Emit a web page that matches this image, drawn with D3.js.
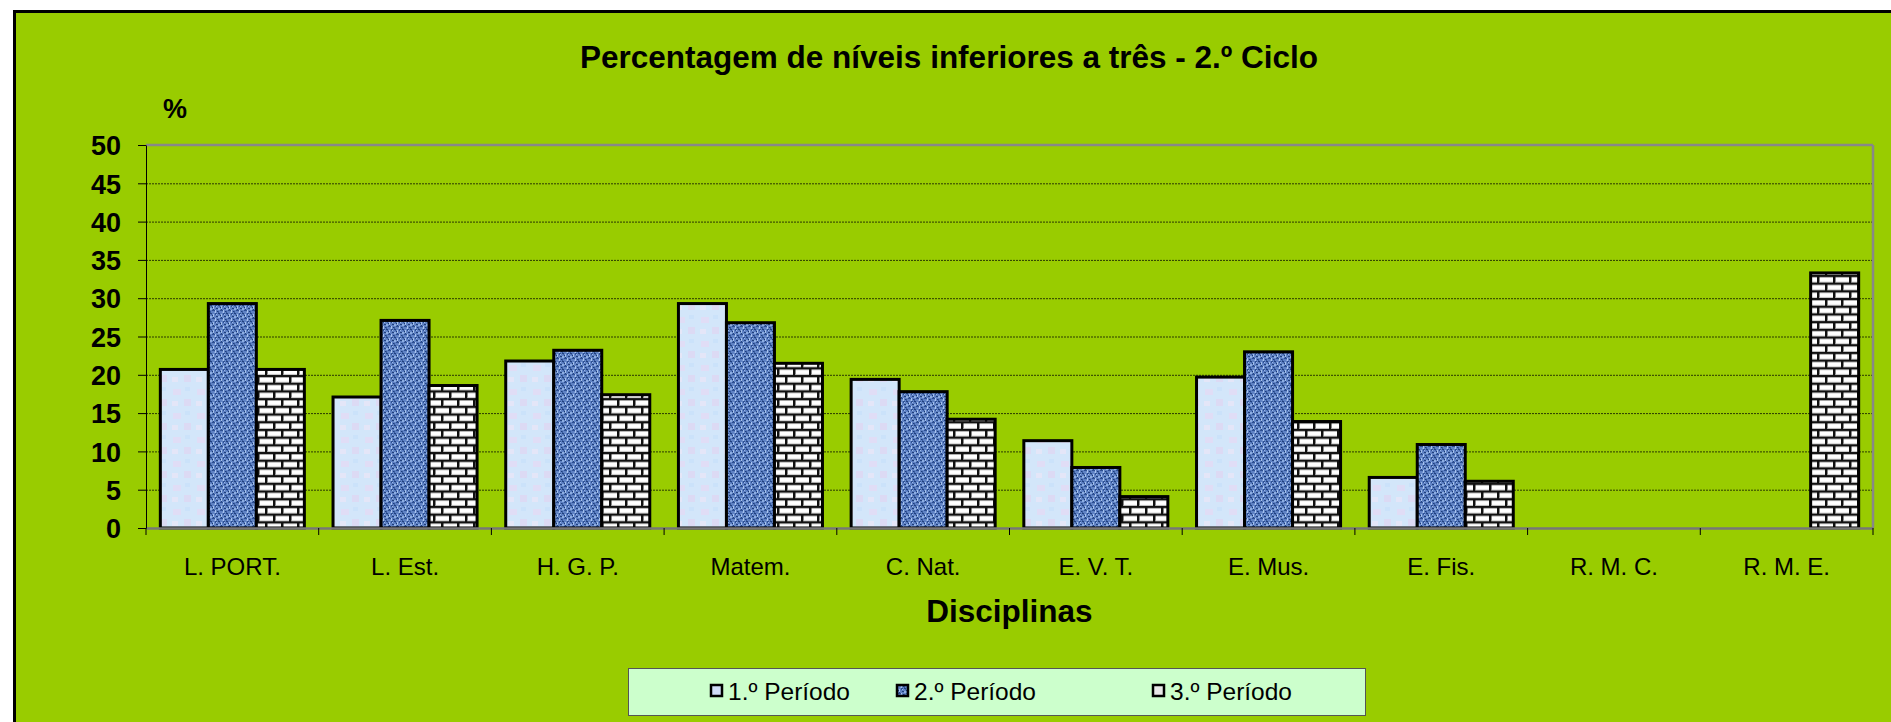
<!DOCTYPE html>
<meta charset="utf-8">
<style>
body { margin: 0; background: #fff; }
text { font-family: Arial, "Liberation Sans", sans-serif; fill: #000; }
.grid line { stroke: #2a3a00; stroke-dasharray: 2,1; stroke-width: 1; }
.grid path { stroke-width: 0; }
.yaxis text { font-size: 27px; font-weight: bold; }
.xaxis text { font-size: 24px; }
.bar { stroke: #000; stroke-width: 3; }
</style>
<body>
<script src="https://cdn.jsdelivr.net/npm/d3@7"></script>
<script>

// data
var categories = ["L. PORT.", "L. Est.", "H. G. P.", "Matem.", "C. Nat.", "E. V. T.", "E. Mus.", "E. Fis.", "R. M. C.", "R. M. E."];
var series = ["1.º Período", "2.º Período", "3.º Período"];
var periodo1 = [20.7, 17.1, 21.8, 29.3, 19.4, 11.4, 19.7, 6.6, 0, 0];
var periodo2 = [29.3, 27.1, 23.2, 26.8, 17.8, 7.9, 23.0, 10.9, 0, 0];
var periodo3 = [20.7, 18.6, 17.4, 21.5, 14.2, 4.1, 13.9, 6.1, 0, 33.3];
var yTicks = [0, 5, 10, 15, 20, 25, 30, 35, 40, 45, 50];

var values = [periodo1, periodo2, periodo3];
var fills = ["url(#p1)", "url(#p2)", "url(#p3)"];

var W = 1891, H = 722;
var margin = {top: 145, left: 146, right: 18, bottom: 194};
var width = W - margin.left - margin.right,
    height = H - margin.top - margin.bottom;

var svg = d3.select("body").append("svg")
    .attr("width", W)
    .attr("height", H);

// patterns
var defs = svg.append("defs");

// pale blue, a bit mottled
var p1 = defs.append("pattern").attr("id", "p1").attr("patternUnits", "userSpaceOnUse")
    .attr("width", 24).attr("height", 24);
p1.append("rect").attr("width", 24).attr("height", 24).attr("fill", "#d3e6fa");
p1.append("rect").attr("x", 3).attr("y", 4).attr("width", 8).attr("height", 6).attr("fill", "#e0ddf6");
p1.append("rect").attr("x", 14).attr("y", 14).attr("width", 7).attr("height", 7).attr("fill", "#dcdaf4");
p1.append("rect").attr("x", 15).attr("y", 2).attr("width", 5).attr("height", 4).attr("fill", "#cbe2fa");
p1.append("rect").attr("x", 2).attr("y", 16).attr("width", 6).attr("height", 5).attr("fill", "#e4e6f8");

// denim blue
var p2 = defs.append("pattern").attr("id", "p2").attr("patternUnits", "userSpaceOnUse")
    .attr("width", 8).attr("height", 8);
p2.append("rect").attr("width", 8).attr("height", 8).attr("fill", "#5f82c4");
[[0,0,2,1,"#22427f"],[3,1,1,3,"#a3c0ec"],[5,0,2,2,"#2f5296"],[0,3,2,2,"#8eaee2"],
 [6,3,2,1,"#1f3f7c"],[2,5,3,1,"#2c4e92"],[5,5,1,3,"#a9c4ee"],[0,6,1,2,"#33579c"],
 [2,2,1,1,"#1b3972"],[7,6,1,1,"#1d3c78"],[4,7,1,1,"#7f9fd8"],[6,1,1,1,"#9ab8ea"],
 [1,1,1,1,"#3c60a6"],[3,4,1,1,"#24457f"]].forEach(function(r) {
  p2.append("rect").attr("x", r[0]).attr("y", r[1]).attr("width", r[2]).attr("height", r[3]).attr("fill", r[4]);
});

// bricks
var p3 = defs.append("pattern").attr("id", "p3").attr("patternUnits", "userSpaceOnUse")
    .attr("width", 16).attr("height", 15.4);
p3.append("rect").attr("width", 16).attr("height", 15.4).attr("fill", "#111");
[[1.5, 1.3], [-6.5, 9], [9.5, 9]].forEach(function(b) {
  p3.append("rect").attr("x", b[0]).attr("y", b[1]).attr("width", 13.5).attr("height", 5.4).attr("fill", "#fff");
  p3.append("rect").attr("x", b[0]).attr("y", b[1] + 4.4).attr("width", 13.5).attr("height", 1).attr("fill", "#c4c4c4");
});

// chart area
svg.append("rect")
    .attr("x", 14.5).attr("y", 11.5)
    .attr("width", W + 20).attr("height", H + 20)
    .attr("fill", "#99cc00")
    .attr("stroke", "#000").attr("stroke-width", 3);

var g = svg.append("g")
    .attr("transform", "translate(" + margin.left + "," + margin.top + ")");

var x0 = d3.scaleBand().domain(categories).range([0, width]).padding(0);
var pad = x0.bandwidth() * 0.083;
var x1 = d3.scaleBand().domain(d3.range(series.length)).range([pad, x0.bandwidth() - pad]).padding(0);
var y = d3.scaleLinear().domain([0, 50]).range([height, 0]);

// grid
g.append("g")
    .attr("class", "grid")
    .call(d3.axisLeft(y).tickValues(yTicks.slice(1, -1)).tickSize(-width).tickFormat(""));

// frame top and right
g.append("line").attr("x1", 0).attr("x2", width).attr("y1", 0).attr("y2", 0)
    .attr("stroke", "#888").attr("stroke-width", 2.5);
g.append("line").attr("x1", width).attr("x2", width).attr("y1", 0).attr("y2", height)
    .attr("stroke", "#888").attr("stroke-width", 2.5);

// bars
var rows = [];
categories.forEach(function(c, i) {
  values.forEach(function(v, s) {
    if (v[i] > 0) rows.push({cat: c, s: s, v: v[i]});
  });
});

g.selectAll(".bar")
    .data(rows)
  .enter().append("rect")
    .attr("class", "bar")
    .attr("x", function(d) { return x0(d.cat) + x1(d.s); })
    .attr("width", x1.bandwidth())
    .attr("y", function(d) { return y(d.v); })
    .attr("height", function(d) { return height - y(d.v); })
    .attr("fill", function(d) { return fills[d.s]; });

// x axis
var xa = g.append("g")
    .attr("class", "xaxis")
    .attr("transform", "translate(0," + height + ")")
    .call(d3.axisBottom(x0).tickSize(0).tickPadding(47));
xa.select(".domain").attr("stroke", "#777").attr("stroke-width", 2.5);
xa.selectAll(".bound")
    .data(d3.range(categories.length + 1))
  .enter().append("line")
    .attr("x1", function(i) { return i * x0.step(); })
    .attr("x2", function(i) { return i * x0.step(); })
    .attr("y1", 0).attr("y2", 7)
    .attr("stroke", "#000");
xa.selectAll("text").attr("dy", "0");

// y axis
var ya = g.append("g")
    .attr("class", "yaxis")
    .call(d3.axisLeft(y).tickValues(yTicks).tickSize(8).tickSizeOuter(0).tickPadding(17));
ya.select(".domain").attr("stroke", "#000").attr("stroke-width", 1);
ya.selectAll("text").attr("dy", "0.36em");

// titles
svg.append("text")
    .attr("x", 949).attr("y", 68)
    .attr("text-anchor", "middle")
    .style("font-size", "31.5px").style("font-weight", "bold")
    .text("Percentagem de níveis inferiores a três - 2.º Ciclo");

svg.append("text")
    .attr("x", 175).attr("y", 118)
    .attr("text-anchor", "middle")
    .style("font-size", "27px").style("font-weight", "bold")
    .text("%");

svg.append("text")
    .attr("x", margin.left + width / 2).attr("y", 622)
    .attr("text-anchor", "middle")
    .style("font-size", "31.5px").style("font-weight", "bold")
    .text("Disciplinas");

// legend
var leg = svg.append("g");
leg.append("rect")
    .attr("x", 628.5).attr("y", 668.5)
    .attr("width", 737).attr("height", 47)
    .attr("fill", "#ccffcc").attr("stroke", "#555").attr("stroke-width", 1);

var legX = [711, 897, 1153];
var legFill = ["#d0dcf8", "url(#p2)", "#e8e8e8"];
series.forEach(function(s, i) {
  leg.append("rect")
      .attr("x", legX[i]).attr("y", 685)
      .attr("width", 11).attr("height", 11)
      .attr("fill", legFill[i]).attr("stroke", "#000").attr("stroke-width", 2.5);
  leg.append("text")
      .attr("x", legX[i] + 17).attr("y", 700)
      .style("font-size", "24.5px")
      .text(s);
});

</script>
</body>
